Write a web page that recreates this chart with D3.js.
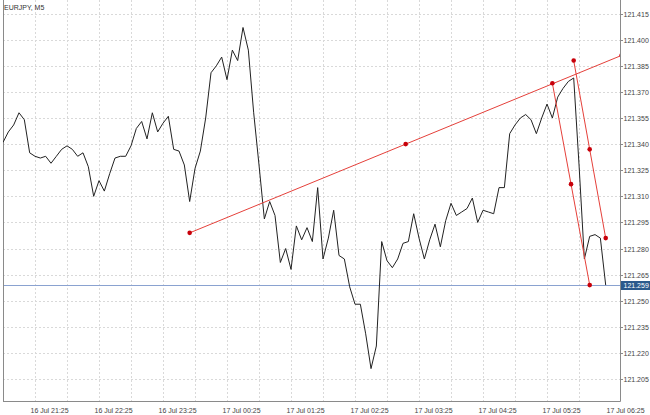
<!DOCTYPE html>
<html><head><meta charset="utf-8">
<script src="https://cdn.jsdelivr.net/npm/d3@7"></script>
<style>
body{margin:0;background:#fff}
svg{display:block}
text{font-family:"Liberation Sans",Arial,sans-serif}
</style>
</head><body>
<svg id="c" width="650" height="415"></svg>
<script>
// ---------- data ----------
const symbolTitle = "EURJPY, M5";
const firstBarTime = "2015-07-16T21:00:00Z";
const barMinutes = 5;
const closes = [
121.341,121.347,121.351,121.358,121.354,121.335,121.333,121.332,121.333,121.329,
121.333,121.337,121.339,121.337,121.333,121.335,121.327,121.310,121.319,121.313,
121.323,121.332,121.333,121.333,121.339,121.349,121.353,121.343,121.358,121.347,
121.352,121.356,121.337,121.336,121.328,121.307,121.326,121.336,121.355,121.381,
121.385,121.390,121.377,121.394,121.388,121.407,121.394,121.358,121.328,121.297,
121.307,121.299,121.272,121.280,121.268,121.293,121.285,121.292,121.284,121.315,
121.274,121.286,121.302,121.276,121.274,121.258,121.248,121.248,121.231,121.211,
121.224,121.284,121.273,121.269,121.274,121.283,121.284,121.300,121.286,121.274,
121.285,121.294,121.281,121.296,121.306,121.299,121.301,121.303,121.309,121.295,
121.302,121.301,121.300,121.315,121.315,121.346,121.351,121.355,121.357,121.354,
121.346,121.355,121.363,121.355,121.367,121.372,121.376,121.378,121.328,121.274,
121.287,121.288,121.286,121.259
];
const priceTicks = ["121.205","121.220","121.235","121.250","121.265","121.280","121.295",
  "121.310","121.325","121.340","121.355","121.370","121.385","121.400","121.415"];
const timeLabelTicks = ["2015-07-16T21:25:00Z","2015-07-16T22:25:00Z","2015-07-16T23:25:00Z",
  "2015-07-17T00:25:00Z","2015-07-17T01:25:00Z","2015-07-17T02:25:00Z","2015-07-17T03:25:00Z",
  "2015-07-17T04:25:00Z","2015-07-17T05:25:00Z","2015-07-17T06:25:00Z"];
const lastPrice = 121.259;
const lastPriceLabel = "121.259";
const trendLine = [["2015-07-16T23:55:00Z",121.289],["2015-07-17T06:40:00Z",121.391]];
const channelA = [["2015-07-17T05:35:00Z",121.375],["2015-07-17T06:10:00Z",121.259]];
const channelB = [["2015-07-17T05:55:00Z",121.388],["2015-07-17T06:25:00Z",121.286]];
const priceMin = 121.1924, priceMax = 121.4228;

// ---------- layout ----------
const L = 3, R = 620, T = 0, B = 401;
const svg = d3.select("#c");
const t0 = new Date(firstBarTime);
const bars = closes.map((v,i)=>({t:d3.utcMinute.offset(t0, i*barMinutes), v}));
const tLast = bars[bars.length-1].t;

const x = d3.scaleUtc().domain([t0, tLast]).range([3, 605.7]);
const y = d3.scaleLinear().domain([priceMin, priceMax]).range([B, T]);

svg.append("rect").attr("width",650).attr("height",415).attr("fill","#fff");

svg.append("clipPath").attr("id","plot").append("rect")
  .attr("x",L).attr("y",T).attr("width",R-L).attr("height",B-T);

// grid
const gridCol = "#d9d9d9";
const gridTimes = d3.utcMinute.every(30).range(new Date(timeLabelTicks[0]), d3.utcMinute.offset(tLast,1));
svg.append("g").selectAll("line").data(gridTimes).join("line")
  .attr("x1",d=>Math.round(x(d))+0.5).attr("x2",d=>Math.round(x(d))+0.5)
  .attr("y1",T).attr("y2",B)
  .attr("stroke",gridCol).attr("stroke-dasharray","2,2");
svg.append("g").selectAll("line").data(priceTicks).join("line")
  .attr("x1",L).attr("x2",R)
  .attr("y1",d=>Math.round(y(+d))+0.5).attr("y2",d=>Math.round(y(+d))+0.5)
  .attr("stroke",gridCol).attr("stroke-dasharray","2,2");

// last price line
svg.append("line").attr("x1",L).attr("x2",R)
  .attr("y1",Math.round(y(lastPrice))+0.5).attr("y2",Math.round(y(lastPrice))+0.5)
  .attr("stroke","#8aa2d0").attr("stroke-width",1);

// frame
const frameCol = "#8a8a8a";
svg.append("line").attr("x1",L+0.5).attr("x2",L+0.5).attr("y1",T).attr("y2",B+0.5).attr("stroke",frameCol);
svg.append("line").attr("x1",L).attr("x2",R+0.5).attr("y1",B+0.5).attr("y2",B+0.5).attr("stroke",frameCol);
svg.append("line").attr("x1",R+0.5).attr("x2",R+0.5).attr("y1",T).attr("y2",B+0.5).attr("stroke",frameCol);

// price series
const plotG = svg.append("g").attr("clip-path","url(#plot)");
plotG.append("path").datum(bars)
  .attr("d", d3.line().x(d=>x(d.t)).y(d=>y(d.v)))
  .attr("fill","none").attr("stroke","#222").attr("stroke-width",1);

// red objects
const red = "#e5403a", dotCol = "#c8000a";
function drawObj(pair){
  const p = pair.map(([t,v])=>({t:new Date(t), v}));
  const mid = {t:new Date((+p[0].t + +p[1].t)/2), v:(p[0].v+p[1].v)/2};
  plotG.append("line")
    .attr("x1",x(p[0].t)).attr("y1",y(p[0].v)).attr("x2",x(p[1].t)).attr("y2",y(p[1].v))
    .attr("stroke",red).attr("stroke-width",1);
  plotG.selectAll(null).data([p[0],mid,p[1]]).join("circle")
    .attr("cx",d=>x(d.t)).attr("cy",d=>y(d.v)).attr("r",2.3).attr("fill",dotCol);
}
drawObj(trendLine); drawObj(channelA); drawObj(channelB);

// y axis
const txtCol = "#444";
const yAx = svg.append("g");
priceTicks.forEach(s=>{
  const yy = Math.round(y(+s))+0.5;
  yAx.append("line").attr("x1",R).attr("x2",R+3).attr("y1",yy).attr("y2",yy).attr("stroke",frameCol);
  yAx.append("text").attr("x",623.5).attr("y",yy+2.5).attr("font-size",7).attr("fill",txtCol).text(s);
});
const ly = Math.round(y(lastPrice))+0.5;
svg.append("rect").attr("x",R+1).attr("y",ly-4.5).attr("width",29).attr("height",9).attr("fill","#2b5a8c");
svg.append("text").attr("x",623.5).attr("y",ly+2.5).attr("font-size",7).attr("fill","#fff").text(lastPriceLabel);

// x axis labels
const fmt = d3.utcFormat("%d %b %H:%M");
svg.append("g").selectAll("text").data(timeLabelTicks).join("text")
  .attr("x",d=>Math.round(x(new Date(d)))+0.5).attr("y",412.5)
  .attr("font-size",7).attr("fill",txtCol).text(d=>fmt(new Date(d)));

// title
svg.append("text").attr("x",4).attr("y",10).attr("font-size",7).attr("fill","#333").text(symbolTitle);
</script>
</body></html>
